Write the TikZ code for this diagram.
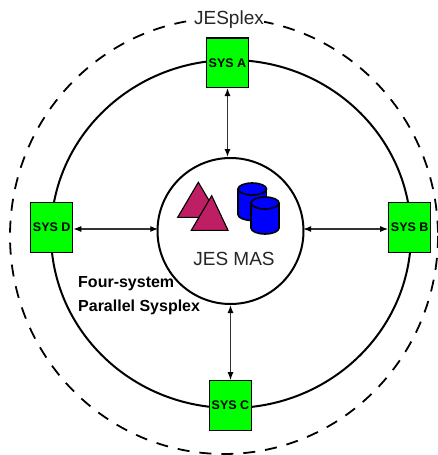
\documentclass[tikz,border=0pt]{standalone}
\usepackage{fontspec}
\setmainfont{Liberation Sans}
\usetikzlibrary{arrows.meta,calc}
\definecolor{sysgreen}{RGB}{0,255,0}
\definecolor{tricol}{RGB}{190,30,100}
\definecolor{cylblue}{RGB}{0,0,255}
\tikzset{
  sysbox/.style={draw=black,fill=sysgreen,line width=1.1pt,minimum width=42pt,minimum height=49.5pt,inner sep=0pt,font=\fontsize{12.5}{14}\selectfont\bfseries},
  link/.style={draw=black!80,line width=1.2pt,{Latex[length=8pt,width=6pt,black]}-{Latex[length=8pt,width=6pt,black]}},
  tri/.style={draw=black,fill=tricol,line width=1.1pt,line join=miter},
  cyl/.style={draw=black,fill=cylblue,line width=1.6pt},
  biglabel/.style={font=\fontsize{19}{22}\selectfont,text=black!85,inner sep=0pt},
}
\newcommand{\cylinder}[4]{% left x, right x, top y, bottom y
  \pgfmathsetmacro{\cx}{(#1+#2)/2}
  \pgfmathsetmacro{\rx}{(#2-#1)/2}
  \path[cyl] (\cx,#4-6) ellipse[x radius=\rx,y radius=6];
  \fill[cylblue] (#1,#3+6) rectangle (#2,#4-6);
  \draw[black,line width=1.6pt] (#1,#3+6) -- (#1,#4-6) (#2,#3+6) -- (#2,#4-6);
  \path[cyl] (\cx,#3+6) ellipse[x radius=\rx,y radius=6];
}
\begin{document}
\begin{tikzpicture}[x=1pt,y=-1pt]
\useasboundingbox (0,0) rectangle (437,455);
\draw[black,line width=1.8pt,dash pattern=on 12pt off 10pt] (224,236) ellipse[x radius=214,y radius=218];
\node[fill=white,inner xsep=3pt,inner ysep=1pt,biglabel] (jesplex) at (229,19.5) {JESplex};
\draw[black,line width=2pt] (231,234) ellipse[x radius=180,y radius=174];
\node[circle,draw=black,line width=2pt,fill=white,minimum size=146pt,inner sep=0pt] (mas) at (230.5,231) {};
\node[sysbox] (sysa) at (227.5,62.7) {SYS A};
\node[sysbox] (sysb) at (409.7,227.5) {SYS B};
\node[sysbox] (sysc) at (230.5,405.5) {SYS C};
\node[sysbox] (sysd) at (51.7,227.5) {SYS D};
\draw[link] (sysa.south) -- (sysa.south |- mas.north);
\draw[link] (sysc.north) -- (sysc.north |- mas.south);
\draw[link] ($(sysd.east)+(0,1.5)$) -- ($(sysd.east |- mas.west)+(85,-2)$);
\draw[link] ($(sysb.west)+(0,1.5)$) -- ($(sysb.west |- mas.east)+(-85,-2)$);
\path[tri] (198.3,182.3) -- (219,217.3) -- (177.7,217.3) -- cycle;
\path[tri] (211.7,195.7) -- (228,230.3) -- (191.3,230.3) -- cycle;
\cylinder{238}{266.5}{183}{220.5}
\cylinder{251}{279}{197}{234}
\node[biglabel] (maslabel) at (234,259) {JES MAS};
\node[font=\fontsize{16}{24}\selectfont\bfseries,align=left,anchor=north west,inner sep=0pt,text=black] (four) at (78,276.5) {Four-system\\Parallel Sysplex};
\end{tikzpicture}
\end{document}
